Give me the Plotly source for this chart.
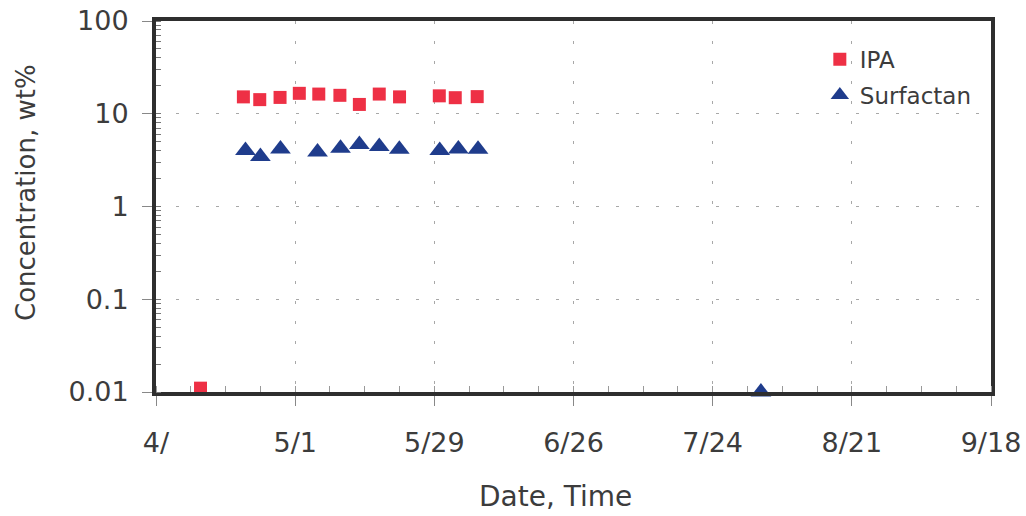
import plotly.graph_objects as go

# ---- data ----
ipa_dates = [
    "2000-04-11 23:00", "2000-04-20 14:00", "2000-04-23 21:00", "2000-04-27 23:00",
    "2000-05-01 20:00", "2000-05-05 18:00", "2000-05-10 00:00", "2000-05-13 22:00",
    "2000-05-17 22:00", "2000-05-22 00:00", "2000-05-30 00:00", "2000-06-02 05:00",
    "2000-06-06 15:00",
]
ipa_values = [0.011, 15.2, 14.2, 15.0, 16.6, 16.3, 15.8, 12.6, 16.3, 15.2, 15.6, 14.9, 15.3]

surf_dates = [
    "2000-04-21 00:00", "2000-04-24 00:00", "2000-04-28 01:00", "2000-05-05 12:00",
    "2000-05-10 03:00", "2000-05-13 22:00", "2000-05-17 22:00", "2000-05-21 23:00",
    "2000-05-30 02:00", "2000-06-02 20:00", "2000-06-06 19:00", "2000-08-02 17:00",
]
surf_values = [4.01, 3.45, 4.17, 3.87, 4.25, 4.65, 4.43, 4.14, 4.01, 4.17, 4.14, 0.01]

x_tick_dates = ["2000-04-03", "2000-05-01", "2000-05-29", "2000-06-26",
                "2000-07-24", "2000-08-21", "2000-09-18"]
x_tick_labels = ["4/", "5/1", "5/29", "6/26", "7/24", "8/21", "9/18"]
y_tick_vals = [0.01, 0.1, 1, 10, 100]
y_tick_labels = ["0.01", "0.1", "1", "10", "100"]

FONT = "DejaVu Sans"
TXT = "#3c3c3c"
AX = "#2e2e2e"

fig = go.Figure()
fig.add_trace(go.Scatter(
    x=ipa_dates, y=ipa_values, mode="markers", name="IPA",
    legendgroup="a",
    marker=dict(symbol="square", size=13, color="#ee3045"),
    cliponaxis=False,
))
fig.add_trace(go.Scatter(
    x=surf_dates, y=surf_values, mode="markers", name="Surfactan",
    legendgroup="b",
    marker=dict(symbol="triangle-up", size=18, color="#1f3c8c"),
    cliponaxis=False,
))

fig.update_layout(
    width=1026, height=516,
    margin=dict(l=156, r=35, t=21, b=124, autoexpand=False),
    paper_bgcolor="white", plot_bgcolor="white",
    font=dict(family=FONT, color=TXT),
    showlegend=True,
    legend=dict(
        x=0.795, y=0.955, xanchor="left", yanchor="top",
        font=dict(family=FONT, size=23, color=TXT),
        bgcolor="rgba(0,0,0,0)", tracegroupgap=3,
    ),
    xaxis=dict(
        type="date", automargin=False,
        range=["2000-04-03", "2000-09-18"],
        tickmode="array", tickvals=x_tick_dates, ticktext=x_tick_labels,
        tickfont=dict(family=FONT, size=27, color=TXT),
        ticks="outside", ticklen=10, tickwidth=1, tickcolor="#888",
        ticklabelstandoff=14, ticklabeloverflow="allow",
        showline=True, linewidth=4, linecolor=AX, mirror=True,
        showgrid=True, gridcolor="#a8a8a8", gridwidth=1, griddash="3px,17px",
        zeroline=False,
        minor=dict(ticks="inside", ticklen=6, tickcolor="#999", tickwidth=1,
                   dtick=7 * 24 * 3600 * 1000, tick0="2000-04-03", showgrid=False),
    ),
    yaxis=dict(
        type="log", automargin=False,
        range=[-2, 2],
        tickmode="array", tickvals=y_tick_vals, ticktext=y_tick_labels,
        tickfont=dict(family=FONT, size=27, color=TXT),
        ticks="outside", ticklen=10, tickwidth=1, tickcolor="#888",
        ticklabelstandoff=8, ticklabeloverflow="allow",
        showline=True, linewidth=4, linecolor=AX, mirror=True,
        showgrid=True, gridcolor="#a8a8a8", gridwidth=1, griddash="3px,17px",
        zeroline=False,
        minor=dict(ticks="inside", ticklen=5, tickcolor="#777", tickwidth=1,
                   dtick="D1", showgrid=False),
    ),
    annotations=[
        dict(text="Date, Time", xref="paper", yref="paper",
             x=0.479, y=-0.283, xanchor="center", yanchor="middle",
             showarrow=False, font=dict(family=FONT, size=28, color=TXT)),
        dict(text="Concentration, wt%", xref="paper", yref="paper",
             x=-0.1557, y=0.539, xanchor="center", yanchor="middle",
             textangle=-90, showarrow=False,
             font=dict(family=FONT, size=26, color=TXT)),
    ],
)

fig.write_html("out.html", config={"displayModeBar": False},
               post_script="document.body.style.margin='0';")
